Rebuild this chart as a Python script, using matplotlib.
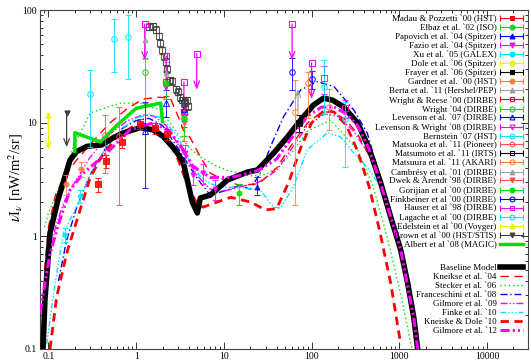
import matplotlib
matplotlib.use("Agg")
import numpy as np
import matplotlib.pyplot as plt
from matplotlib import ticker
from matplotlib.lines import Line2D
from matplotlib.legend_handler import HandlerBase

plt.rcParams['font.family'] = ['Liberation Serif', 'DejaVu Serif']
plt.rcParams['mathtext.fontset'] = 'stix'

# ---------------- EBL models: wavelength [um] vs nu I_nu [nW/m^2/sr] ----------------
BASE_X = [0.0865, 0.091, 0.104, 0.128, 0.176, 0.21, 0.273, 0.32, 0.405, 0.546, 0.71, 1.11,
          1.56, 2.04, 2.79, 3.44, 4.36, 4.98, 5.39, 7.0, 11.0, 18.6, 24.1, 36.8, 53, 75, 105,
          137, 174, 232, 335, 448, 615, 800, 1040, 1250, 1465, 1627]
BASE_Y = [0.098, 0.27, 1.06, 2.08, 4.7, 5.6, 6.2, 6.3, 6.4, 7.4, 8.15, 9.1, 8.7, 7.6, 5.77,
          4.5, 2.0, 1.6, 2.17, 2.3, 3.13, 3.68, 3.84, 5.4, 7.5, 10.6, 14.4, 16.6, 15.9, 13.9,
          10.0, 6.1, 2.94, 1.47, 0.75, 0.38, 0.19, 0.098]

KN04_X = [0.09, 0.1, 0.12, 0.15, 0.2, 0.3, 0.5, 0.8, 1.2, 1.8, 2.45, 3.0, 3.44, 4.1, 5.4, 7.0,
          9.1, 15, 25, 40, 60, 90, 130, 180, 250, 335, 450, 615, 800, 1040, 1465]
KN04_Y = [0.5, 1.2, 2.3, 3.3, 4.5, 6.5, 10, 13.5, 16.3, 16.9, 16.6, 11.5, 8.7, 7.5, 5.0, 3.6,
          3.25, 2.8, 2.9, 4.0, 6.5, 10, 12.5, 12.5, 10.5, 8.0, 5.2, 2.9, 1.47, 0.75, 0.19]

STK06_X = [0.09, 0.1, 0.129, 0.192, 0.3, 0.66, 1.1, 1.9, 3.0, 4.1, 5.4, 8, 11, 20, 30, 44, 60,
           90, 165, 335, 500, 700, 1000, 1400]
STK06_Y = [1.2, 1.6, 2.55, 6.2, 12.3, 15, 15, 13, 8, 6, 5, 4.2, 3.8, 3.4, 3.5, 4.2, 5.5, 8.5,
           10.6, 5.8, 2.8, 1.1, 0.35, 0.1]

FR08_X = [0.13, 0.16, 0.21, 0.25, 0.3, 0.45, 0.7, 1.0, 1.4, 2.0, 3.0, 4.0, 5.0, 7, 10, 15, 20,
          26, 35, 48, 75, 116, 180, 304, 433, 615, 800, 1040, 1465]
FR08_Y = [0.4, 0.9, 1.8, 2.5, 3.5, 6, 9, 10.5, 11, 9.5, 6, 4.2, 3.2, 2.3, 2.5, 2.8, 2.6, 3.6,
          6.5, 11.4, 19.6, 23.2, 21, 13, 8.1, 3.1, 1.5, 0.75, 0.19]

GM09_X = [0.09, 0.1, 0.12, 0.15, 0.2, 0.3, 0.5, 0.8, 1.2, 1.6, 2.2, 3, 4, 5, 7, 10, 15, 25,
          40, 60, 90, 140, 200, 300, 450, 615, 800, 1040, 1465]
GM09_Y = [0.3, 0.6, 1.2, 2.0, 3.0, 5, 8, 10.5, 11.8, 11.5, 9.5, 6.5, 4.5, 3.4, 2.6, 2.5, 2.7,
          3.0, 3.8, 6, 9.5, 12, 11.5, 8.5, 5.3, 2.9, 1.45, 0.74, 0.19]

FK10_X = [0.095, 0.12, 0.148, 0.229, 0.3, 0.45, 0.7, 1.0, 1.4, 2.0, 3.0, 4.1, 5.5, 7, 10, 15,
          26, 37, 44, 62, 89, 152, 215, 304, 450, 615, 800, 1040, 1290]
FK10_Y = [0.11, 0.4, 1.06, 2.1, 3.5, 6, 9, 11, 12, 11, 7.5, 4.5, 3.3, 2.9, 2.7, 2.7, 2.55,
          1.8, 1.77, 2.7, 5.8, 8.2, 7.5, 5.4, 3.9, 2.7, 1.5, 0.8, 0.43]

KD10_X = [0.104, 0.124, 0.161, 0.229, 0.3, 0.4, 0.6, 0.9, 1.2, 1.6, 2.2, 3.0, 4.0, 5.0, 5.8,
          8.4, 12, 20, 30, 40, 55, 75, 100, 140, 180, 250, 330, 450, 600, 800, 1040]
KD10_Y = [0.1, 0.29, 0.7, 1.7, 3.3, 5.0, 7.5, 9.2, 9.8, 9.3, 7.5, 4.8, 2.6, 1.9, 1.8, 2.0,
          2.2, 2.0, 1.7, 1.75, 3.0, 6.0, 10, 13, 12.5, 9.5, 5.8, 2.8, 1.1, 0.38, 0.11]

GM12_X = [0.08, 0.104, 0.135, 0.176, 0.25, 0.46, 0.85, 1.56, 2.4, 3.44, 4.5, 7.0, 11.9, 20,
          26, 40, 60, 90, 130, 180, 250, 335, 448, 615, 800, 1040, 1465, 1627]
GM12_Y = [0.21, 0.7, 1.39, 2.55, 3.6, 5.4, 8.7, 10, 8.5, 5.8, 4.1, 3.3, 3.3, 3.6, 3.9, 4.8,
          7.5, 11.5, 13.8, 13.9, 12, 9.5, 6.0, 2.9, 1.47, 0.75, 0.19, 0.098]

MAGIC_X = [0.2, 0.2, 0.39, 0.6, 1.0, 1.9, 2.0]
MAGIC_Y = [5.6, 8.2, 6.8, 9.5, 13.5, 15.0, 10.3]

# ---------------- measurements: x, value, lower end, upper end ----------------
MADAU_X = [0.37, 0.45, 0.69, 1.1, 1.65, 2.24]
MADAU_Y = [2.9, 4.6, 6.8, 9.8, 9.0, 8.0]
MADAU_LO = [2.45, 4.0, 6.0, 8.8, 8.0, 7.1]
MADAU_HI = [3.25, 5.2, 7.6, 10.8, 10.0, 8.9]

ELBAZ_X, ELBAZ_Y, ELBAZ_LO, ELBAZ_HI = [15], [2.4], [1.9], [2.9]
PAPOV_X, PAPOV_Y, PAPOV_LO, PAPOV_HI = [24], [2.7], [2.3], [3.3]

FAZIO_X = [3.6, 4.5, 5.8, 8.0]
FAZIO_Y = [5.4, 3.5, 3.6, 2.6]
FAZIO_LO = [4.4, 2.8, 2.9, 2.1]
FAZIO_HI = [6.4, 4.2, 4.3, 3.1]

XU_X, XU_Y, XU_LO, XU_HI = [0.153, 0.231], [1.03, 2.25], [0.88, 1.95], [1.18, 2.55]

FRAYER_X, FRAYER_Y, FRAYER_LO, FRAYER_HI = [71], [10.1], [8.4], [11.8]

GARDNER_X = [0.16, 0.236]
GARDNER_Y = [2.9, 3.9]
GARDNER_LO = [2.3, 3.3]
GARDNER_HI = [3.5, 4.5]

BERTA_X, BERTA_Y, BERTA_TIP = [70], [13.0], [20.0]

WRIGHTREESE_X, WRIGHTREESE_Y = [2.2, 3.5], [23.1, 12.4]
WRIGHTREESE_LO, WRIGHTREESE_HI = [17.2, 9.2], [29.0, 15.6]

WRIGHT04_X, WRIGHT04_Y = [1.25, 2.2, 3.5], [28.0, 22.4, 11.0]
WRIGHT04_LO, WRIGHT04_HI = [15.0, 16.4, 7.7], [37.6, 28.4, 14.3]

LEV07_X, LEV07_Y = [1.25, 2.2, 3.5], [8.5, 15.0, 13.3]
LEV07_LO, LEV07_HI = [2.66, 11.3, 10.5], [15.4, 19.6, 16.1]

LEVW08_X, LEVW08_Y, LEVW08_LO, LEVW08_HI = [3.6], [14.0], [12.0], [16.0]

BERN_X = [0.3, 0.555, 0.814]
BERN_Y = [18.0, 55.0, 57.6]
BERN_LO = [6.1, 28.0, 24.5]
BERN_HI = [29.5, 84.0, 90.0]

MATSUOKA_X, MATSUOKA_Y = [0.44, 0.64], [7.9, 7.7]
MATSUOKA_LO, MATSUOKA_HI = [3.6, 1.9], [11.8, 13.9]

MATSUMOTO_X = [1.41, 1.55, 1.69, 1.82, 1.88, 1.97, 2.09, 2.18, 2.24, 2.45, 2.58, 2.87, 3.0,
               3.18, 3.33, 3.5, 3.63, 3.8, 3.9]
MATSUMOTO_Y = [71, 72, 67, 59, 51, 44, 39, 35, 30, 24, 23.5, 20, 19, 17, 16, 15, 15.4, 15.9, 14]

MATSUURA_X, MATSUURA_Y = [65, 90, 160], [12.6, 22.6, 13.9]
MATSUURA_LO, MATSUURA_HI = [1.9, 11.0, 8.7], [23.9, 28.4, 20.0]

CAMB_X, CAMB_Y, CAMB_LO, CAMB_HI = [1.25, 2.2], [54.0, 27.8], [37.2, 21.1], [70.8, 34.5]

DWEK_X, DWEK_Y, DWEK_LO, DWEK_HI = [3.5], [9.9], [7.0], [12.8]

GORJ_X, GORJ_Y, GORJ_LO, GORJ_HI = [2.2, 3.5], [22.4, 11.0], [16.4, 7.7], [28.4, 14.3]

FINK_X, FINK_Y, FINK_LO, FINK_HI = [60, 100], [28.5, 24.5], [19.6, 20.0], [37.6, 29.0]

HAUSER_UL_X = [1.25, 2.2, 3.5, 4.9, 60, 100]
HAUSER_UL_Y = [75, 39, 23, 41, 75, 34]
HAUSER_X, HAUSER_Y, HAUSER_LO, HAUSER_HI = [140, 240], [25.0, 13.6], [18.0, 11.1], [32.0, 16.1]

LAGACHE_X, LAGACHE_Y = [140, 240], [20.8, 10.9]
LAGACHE_LO, LAGACHE_HI = [12.0, 4.1], [36.0, 15.3]

EDEL_X, EDEL_LO, EDEL_HI = [0.1], [5.8], [11.8]
BROWN_X, BROWN_Y, BROWN_TIP = [0.161], [12.3], [6.1]

RED, GREEN, BLUE, MAG, CYAN = '#ff0000', '#00e000', '#0000ff', '#ff00ff', '#00e5ff'
YELLOW, ORANGE, GREY, DGREY, LRED = '#f0f000', '#ff7f3f', '#a0a0a0', '#404040', '#ff5050'

fig = plt.figure(figsize=(5.31, 3.61), dpi=100)
ax = fig.add_axes([40 / 531, 12 / 361, 488 / 531, 339 / 361])
ax.set_xscale('log')
ax.set_yscale('log')
ax.set_xlim(0.08, 29400)
ax.set_ylim(0.1, 100)

# ---- model curves
ax.plot(STK06_X, STK06_Y, color=GREEN, lw=1.0, dashes=(1, 2), zorder=2)
ax.plot(FR08_X, FR08_Y, color=BLUE, lw=1.0, dashes=(5, 2, 1, 2), zorder=2)
ax.plot(GM09_X, GM09_Y, color=MAG, lw=1.0, dashes=(5, 1.5, 1, 1.5, 1, 1.5), zorder=2)
ax.plot(FK10_X, FK10_Y, color=CYAN, lw=1.0, dashes=(4, 1.5, 1, 1.5, 1, 1.5, 1, 1.5), zorder=2)
ax.plot(KN04_X, KN04_Y, color=RED, lw=1.0, dashes=(6, 4), zorder=2)
ax.plot(KD10_X, KD10_Y, color=RED, lw=2.0, dashes=(3, 2), zorder=2)
ax.plot(BASE_X, BASE_Y, color='black', lw=4.0, solid_joinstyle='round', zorder=3)
ax.plot(GM12_X, GM12_Y, color=MAG, lw=2.2, dashes=(3, 1, 0.7, 1, 0.7, 1), zorder=3)
ax.plot(MAGIC_X, MAGIC_Y, color=GREEN, lw=2.5, zorder=4)


def points(x, y, lo, hi, color, marker, filled=True, ms=4.0):
    y = np.asarray(y, float)
    err = [y - np.asarray(lo, float), np.asarray(hi, float) - y]
    ax.errorbar(x, y, yerr=err, fmt=marker, color=color, ecolor=color,
                mfc=color if filled else 'none', mec=color, ms=ms, mew=0.8,
                elinewidth=0.7, capsize=2, capthick=0.7, alpha=0.85, zorder=5)


def arrow(x, y0, y1, color):
    ax.annotate('', xy=(x, y1), xytext=(x, y0),
                arrowprops=dict(arrowstyle='->,head_length=0.5,head_width=0.2',
                                color=color, lw=0.9, shrinkA=0, shrinkB=0), zorder=5)


points(MADAU_X, MADAU_Y, MADAU_LO, MADAU_HI, RED, 's')
points(ELBAZ_X, ELBAZ_Y, ELBAZ_LO, ELBAZ_HI, GREEN, 'o', ms=3.5)
points(PAPOV_X, PAPOV_Y, PAPOV_LO, PAPOV_HI, BLUE, '^', ms=3.5)
points(FAZIO_X, FAZIO_Y, FAZIO_LO, FAZIO_HI, MAG, 'v', ms=3.5)
points(XU_X, XU_Y, XU_LO, XU_HI, CYAN, 'o', ms=3)
points(FRAYER_X, FRAYER_Y, FRAYER_LO, FRAYER_HI, 'black', 's')
points(GARDNER_X, GARDNER_Y, GARDNER_LO, GARDNER_HI, ORANGE, 'o', ms=3.5)
points(WRIGHTREESE_X, WRIGHTREESE_Y, WRIGHTREESE_LO, WRIGHTREESE_HI, RED, 's', filled=False)
points(WRIGHT04_X, WRIGHT04_Y, WRIGHT04_LO, WRIGHT04_HI, GREEN, 'o', filled=False)
points(LEV07_X, LEV07_Y, LEV07_LO, LEV07_HI, BLUE, '^', filled=False)
points(LEVW08_X, LEVW08_Y, LEVW08_LO, LEVW08_HI, MAG, 'v', filled=False)
points(BERN_X, BERN_Y, BERN_LO, BERN_HI, CYAN, 'o', filled=False)
points(MATSUOKA_X, MATSUOKA_Y, MATSUOKA_LO, MATSUOKA_HI, LRED, 'o', filled=False)
mt_y = np.asarray(MATSUMOTO_Y, float)
points(MATSUMOTO_X, mt_y, mt_y * 0.93, mt_y * 1.07, DGREY, 's', filled=False)
points(MATSUURA_X, MATSUURA_Y, MATSUURA_LO, MATSUURA_HI, ORANGE, 'o', filled=False)
points(CAMB_X, CAMB_Y, CAMB_LO, CAMB_HI, GREY, '^', ms=3.5)
points(DWEK_X, DWEK_Y, DWEK_LO, DWEK_HI, LRED, 'v', ms=3.5)
points(GORJ_X, GORJ_Y, GORJ_LO, GORJ_HI, GREEN, 'o', ms=3.5)
points(FINK_X, FINK_Y, FINK_LO, FINK_HI, BLUE, 'o', filled=False)
points(HAUSER_X, HAUSER_Y, HAUSER_LO, HAUSER_HI, MAG, 's', filled=False)
points(LAGACHE_X, LAGACHE_Y, LAGACHE_LO, LAGACHE_HI, CYAN, 'o', filled=False)

# upper / lower limits
for xv, yv in zip(HAUSER_UL_X, HAUSER_UL_Y):
    arrow(xv, yv, yv * 0.48, MAG)
ax.plot(HAUSER_UL_X, HAUSER_UL_Y, ls='none', marker='s', ms=4, mfc='none', mec=MAG,
        mew=0.8, zorder=6)
for xv, y0, y1 in zip(BROWN_X, BROWN_Y, BROWN_TIP):
    arrow(xv, y0, y1, DGREY)
ax.plot(BROWN_X, BROWN_Y, ls='none', marker='v', ms=3.5, color=DGREY, zorder=6)
for xv, y0, y1 in zip(BERTA_X, BERTA_Y, BERTA_TIP):
    arrow(xv, y0, y1, GREY)
for xv, lo, hi in zip(EDEL_X, EDEL_LO, EDEL_HI):
    arrow(xv, hi, lo, YELLOW)
ax.plot(EDEL_X, EDEL_HI, ls='none', marker='^', ms=3.5, mfc='none', mec=YELLOW, zorder=6)

# ---- axes styling
fmt = ticker.FuncFormatter(lambda v, p: '%g' % v)
ax.xaxis.set_major_locator(ticker.LogLocator(base=10, numticks=12))
ax.xaxis.set_minor_locator(ticker.LogLocator(base=10, subs=np.arange(2, 10), numticks=12))
ax.yaxis.set_major_locator(ticker.LogLocator(base=10, numticks=12))
ax.yaxis.set_minor_locator(ticker.LogLocator(base=10, subs=np.arange(2, 10), numticks=12))
ax.xaxis.set_major_formatter(fmt)
ax.yaxis.set_major_formatter(fmt)
ax.xaxis.set_minor_formatter(ticker.NullFormatter())
ax.yaxis.set_minor_formatter(ticker.NullFormatter())
ax.tick_params(which='both', direction='in', top=True, right=True, labelsize=7,
               width=0.7, colors='#333333', labelcolor='black')
ax.tick_params(which='major', length=5, pad=2)
ax.tick_params(which='minor', length=2.5)
for s in ax.spines.values():
    s.set_linewidth(0.8)
    s.set_color('#444444')
ax.set_ylabel(r'$\nu$I$_\nu$ [nW/m$^2$/sr]', fontsize=10.5)
ax.yaxis.set_label_coords(-0.03, 0.505)


# ---- legends
class ErrorKey(HandlerBase):
    def create_artists(self, legend, orig, xd, yd, width, height, fontsize, trans):
        y = height / 2 - yd
        x0, x1 = -xd, width - xd
        col = orig.get_color()
        if orig.get_marker() in ('None', None, '', ' '):
            arts = [Line2D([x0, x1], [y, y], color=col, lw=orig.get_linewidth())]
        else:
            arts = [Line2D([x0, x1], [y, y], color=col, lw=0.8),
                    Line2D([x0, x1], [y, y], ls='none', marker='|', ms=4, mew=0.8, color=col),
                    Line2D([(x0 + x1) / 2], [y], ls='none', marker=orig.get_marker(),
                           ms=orig.get_markersize(), mfc=orig.get_markerfacecolor(),
                           mec=col, mew=0.8)]
        for a in arts:
            a.set_transform(trans)
        return arts


DATA_KEYS = [
    ("Madau & Pozzetti `00 (HST)", RED, 's', True),
    ("Elbaz et al. `02 (ISO)", GREEN, 'o', True),
    ("Papovich et al. `04 (Spitzer)", BLUE, '^', True),
    ("Fazio et al. `04 (Spitzer)", MAG, 'v', True),
    ("Xu et al. `05 (GALEX)", CYAN, 'o', True),
    ("Dole et al. `06 (Spitzer)", YELLOW, 'o', True),
    ("Frayer et al. `06 (Spitzer)", 'black', 's', True),
    ("Gardner et al. `00 (HST)", ORANGE, 'o', True),
    ("Berta et al. `11 (Hershel/PEP)", GREY, '^', True),
    ("Wright & Reese `00 (DIRBE)", RED, 's', False),
    ("Wright `04 (DIRBE)", GREEN, 'o', False),
    ("Levenson et al. `07 (DIRBE)", BLUE, '^', False),
    ("Levenson & Wright `08 (DIRBE)", MAG, 'v', False),
    ("Bernstein `07 (HST)", CYAN, 'o', False),
    ("Matsuoka et al. `11 (Pioneer)", LRED, 'o', False),
    ("Matsumoto et al. `11 (IRTS)", 'black', 's', False),
    ("Matsuura et al. `11 (AKARI)", ORANGE, 'o', False),
    ("Cambrésy et al. `01 (DIRBE)", GREY, '^', True),
    ("Dwek & Arendt `98 (DIRBE)", LRED, 'v', True),
    ("Gorijian et al `00 (DIRBE)", GREEN, 'o', True),
    ("Finkbeiner et al `00 (DIRBE)", BLUE, 'o', False),
    ("Hauser et al `98 (DIRBE)", MAG, 's', False),
    ("Lagache et al `00 (DIRBE)", CYAN, 'o', False),
    ("Edelstein et al `00 (Voyger)", YELLOW, '^', True),
    ("Brown et al `00 (HST/STIS)", DGREY, 'v', True),
]
data_handles = [Line2D([], [], color=c, marker=m, ms=3.5, mfc=c if f else 'none')
                for _, c, m, f in DATA_KEYS]
data_labels = [k[0] for k in DATA_KEYS]
data_handles.append(Line2D([], [], color=GREEN, lw=2.5, marker='None'))
data_labels.append("Albert et al `08 (MAGIC)")

leg1 = ax.legend(data_handles, data_labels, loc='upper right',
                 bbox_to_anchor=(0.9898, 0.986), frameon=False, markerfirst=False,
                 fontsize=6.5, labelspacing=0.07, handlelength=2.5, handletextpad=0.45,
                 borderpad=0, borderaxespad=0, handler_map={Line2D: ErrorKey()})
ax.add_artist(leg1)

model_handles = [
    Line2D([], [], color='black', lw=4.0),
    Line2D([], [], color=RED, lw=1.0, dashes=(6, 4)),
    Line2D([], [], color=GREEN, lw=1.0, dashes=(1, 2)),
    Line2D([], [], color=BLUE, lw=1.0, dashes=(5, 2, 1, 2)),
    Line2D([], [], color=MAG, lw=1.0, dashes=(5, 1.5, 1, 1.5, 1, 1.5)),
    Line2D([], [], color=CYAN, lw=1.0, dashes=(4, 1.5, 1, 1.5, 1, 1.5, 1, 1.5)),
    Line2D([], [], color=RED, lw=2.0, dashes=(3, 2)),
    Line2D([], [], color=MAG, lw=2.2, dashes=(3, 1, 0.7, 1, 0.7, 1)),
]
model_labels = ["Baseline Model", "Kneikse et al. `04", "Stecker et al. `06",
                "Franceschini et al. `08", "Gilmore et al. `09", "Finke et al. `10",
                "Kneiske & Dole `10", "Gilmore et al. `12"]
ax.legend(model_handles, model_labels, loc='upper right', bbox_to_anchor=(0.9898, 0.251),
          frameon=False, markerfirst=False, fontsize=6.5, labelspacing=0.07,
          handlelength=2.5, handletextpad=0.45, borderpad=0, borderaxespad=0)

fig.savefig('out.png', dpi=100)
